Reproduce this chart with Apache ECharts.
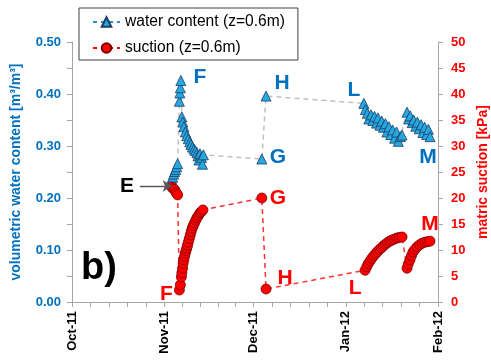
<!DOCTYPE html>
<html>
<head>
<meta charset="utf-8">
<script src="https://cdn.jsdelivr.net/npm/echarts@6/dist/echarts.min.js"></script>
<style>
  html, body { margin: 0; padding: 0; background: #fff; }
  #chart { width: 491px; height: 361px; }
</style>
</head>
<body>
<div id="chart"></div>
<script>
// Volumetric water content at z = 0.6 m (left axis)
const wcTime = [
  '2011-11-03 12:00', '2011-11-03 20:00', '2011-11-04 04:00', '2011-11-04 12:00',
  '2011-11-04 20:00', '2011-11-05 04:00', '2011-11-05 12:00',
  '2011-11-06 02:00', '2011-11-06 06:00', '2011-11-06 10:00', '2011-11-06 14:00',
  '2011-11-06 22:00', '2011-11-07 06:00', '2011-11-07 14:00', '2011-11-08 02:00',
  '2011-11-08 14:00', '2011-11-09 02:00', '2011-11-09 14:00', '2011-11-10 00:00',
  '2011-11-10 12:00', '2011-11-11 00:00', '2011-11-11 12:00', '2011-11-12 00:00',
  '2011-11-12 08:00', '2011-11-12 16:00', '2011-11-13 00:00', '2011-11-13 12:00',
  '2011-11-13 20:00', '2011-11-14 04:00',
  '2011-12-03 19:00', '2011-12-05 05:00',
  '2012-01-07 02:00', '2012-01-07 14:00', '2012-01-08 06:00', '2012-01-08 18:00',
  '2012-01-09 12:00', '2012-01-10 02:00', '2012-01-10 16:00', '2012-01-11 08:00',
  '2012-01-11 20:00', '2012-01-12 12:00', '2012-01-13 02:00', '2012-01-13 16:00',
  '2012-01-14 08:00', '2012-01-14 20:00', '2012-01-15 12:00', '2012-01-16 02:00',
  '2012-01-16 18:00', '2012-01-17 10:00', '2012-01-18 02:00', '2012-01-18 16:00',
  '2012-01-19 08:00', '2012-01-19 22:00',
  '2012-01-21 14:00', '2012-01-22 04:00', '2012-01-22 16:00', '2012-01-23 08:00',
  '2012-01-23 20:00', '2012-01-24 12:00', '2012-01-25 02:00', '2012-01-25 16:00',
  '2012-01-26 08:00', '2012-01-26 22:00', '2012-01-27 12:00', '2012-01-28 04:00',
  '2012-01-28 18:00', '2012-01-29 08:00'
];
const wcValue = [
  0.236, 0.240, 0.246, 0.251,
  0.255, 0.260, 0.266,
  0.386, 0.402, 0.412, 0.426,
  0.356, 0.346, 0.337, 0.327,
  0.320, 0.314, 0.308, 0.303,
  0.298, 0.294, 0.291, 0.287,
  0.281, 0.273, 0.285, 0.278,
  0.265, 0.283,
  0.275, 0.396,
  0.382, 0.370, 0.363, 0.352,
  0.360, 0.349, 0.357, 0.344,
  0.354, 0.340, 0.348, 0.336,
  0.343, 0.327, 0.337, 0.322,
  0.331, 0.315, 0.327, 0.309,
  0.318, 0.321,
  0.365, 0.352, 0.358, 0.345,
  0.350, 0.338, 0.346, 0.333,
  0.341, 0.326, 0.336, 0.322,
  0.332, 0.318
];

// Matric suction at z = 0.6 m in kPa (right axis)
const suTime = [
  '2011-11-03 12:00', '2011-11-04 00:00', '2011-11-04 12:00', '2011-11-05 00:00',
  '2011-11-05 12:00',
  '2011-11-06 02:00', '2011-11-06 10:00',
  '2011-11-06 18:00', '2011-11-06 22:00', '2011-11-07 04:00', '2011-11-07 08:00',
  '2011-11-07 14:00', '2011-11-07 20:00', '2011-11-08 02:00', '2011-11-08 08:00',
  '2011-11-08 14:00', '2011-11-08 20:00', '2011-11-09 02:00', '2011-11-09 10:00',
  '2011-11-09 18:00', '2011-11-10 02:00', '2011-11-10 10:00', '2011-11-10 18:00',
  '2011-11-11 04:00', '2011-11-11 14:00', '2011-11-12 00:00', '2011-11-12 12:00',
  '2011-11-13 00:00', '2011-11-13 12:00', '2011-11-14 00:00',
  '2011-12-03 19:00', '2011-12-05 05:00',
  '2012-01-07 12:00', '2012-01-08 02:00', '2012-01-08 14:00', '2012-01-09 04:00',
  '2012-01-09 18:00', '2012-01-10 10:00', '2012-01-11 02:00', '2012-01-11 16:00',
  '2012-01-12 08:00', '2012-01-13 00:00', '2012-01-13 16:00', '2012-01-14 08:00',
  '2012-01-15 00:00', '2012-01-15 18:00', '2012-01-16 12:00', '2012-01-17 08:00',
  '2012-01-18 04:00', '2012-01-19 00:00', '2012-01-19 22:00',
  '2012-01-21 14:00', '2012-01-22 00:00', '2012-01-22 14:00', '2012-01-23 02:00',
  '2012-01-23 14:00', '2012-01-24 06:00', '2012-01-25 00:00', '2012-01-25 20:00',
  '2012-01-26 16:00', '2012-01-27 14:00', '2012-01-28 12:00', '2012-01-29 07:00'
];
const suValue = [
  22.1, 21.8, 21.6, 21.0,
  20.6,
  2.3, 3.3,
  4.8, 5.6, 6.5, 7.4,
  8.1, 8.8, 9.4, 9.9,
  10.4, 10.9, 11.5, 12.2,
  12.9, 13.6, 14.2, 14.7,
  15.2, 15.7, 16.2, 16.6,
  17.1, 17.4, 17.7,
  20.0, 2.5,
  6.1, 6.8, 7.4, 7.9,
  8.4, 8.9, 9.3, 9.7,
  10.1, 10.4, 10.8, 11.1,
  11.4, 11.7, 11.9, 12.1,
  12.3, 12.4, 12.5,
  6.5, 7.3, 8.1, 8.9,
  9.6, 10.1, 10.6, 11.0,
  11.3, 11.5, 11.6, 11.7
];

// Axis ranges and labels
const monthStarts = ['2011-10-01', '2011-11-01', '2011-12-01', '2012-01-01', '2012-02-01'];
const monthNames = ['Jan','Feb','Mar','Apr','May','Jun','Jul','Aug','Sep','Oct','Nov','Dec'];
const wcTicks = [0, 0.5, 0.1];
const suTicks = [0, 50, 5];

const seriesNames = ['water content (z=0.6m)', 'suction (z=0.6m)'];

const FONT = '"Liberation Sans", Arial, sans-serif';
const BLUE = '#0070C0';
const RED = '#FF0000';

function toMs(s) {
  const [d, t] = s.split(' ');
  const [y, m, dd] = d.split('-').map(Number);
  const [hh, mm] = (t || '00:00').split(':').map(Number);
  return new Date(y, m - 1, dd, hh, mm).getTime();
}

const monthMs = monthStarts.map(toMs);
// five minor divisions per month on the date axis
const tickMs = [];
for (let i = 0; i < monthMs.length - 1; i++) {
  for (let k = 0; k < 5; k++) tickMs.push(monthMs[i] + (monthMs[i + 1] - monthMs[i]) * k / 5);
}
tickMs.push(monthMs[monthMs.length - 1]);

const wcData = wcTime.map((t, i) => [toMs(t), wcValue[i]]);
const suData = suTime.map((t, i) => [toMs(t), suValue[i]]);

// letter annotation anchored on a data point, shifted by a pixel offset
function note(coord, text, color, dx, dy) {
  return {
    coord: coord,
    symbol: 'rect',
    symbolSize: 1,
    itemStyle: { color: 'rgba(0,0,0,0)' },
    label: {
      show: true, position: 'inside', formatter: text, color: color, offset: [dx, dy],
      fontFamily: FONT, fontWeight: 'bold', fontSize: 21,
      align: 'center', verticalAlign: 'middle'
    }
  };
}

const iPeak = wcValue.indexOf(Math.max(...wcValue));
const iWcG = wcTime.indexOf('2011-12-03 19:00');
const iWcH = wcTime.indexOf('2011-12-05 05:00');
const iWcL = wcTime.indexOf('2012-01-07 02:00');
const iWcM = wcTime.length - 1;
const iSuF = suTime.indexOf('2011-11-06 02:00');
const iSuG = suTime.indexOf('2011-12-03 19:00');
const iSuH = suTime.indexOf('2011-12-05 05:00');
const iSuL = suTime.indexOf('2012-01-07 12:00');
const iSuM = suTime.length - 1;

// arrow pointing at the onset of wetting
const arrowFrom = [toMs('2011-10-23 20:00'), 0.223];
const arrowTo = [toMs('2011-11-03 12:00'), 0.223];

const chart = echarts.init(document.getElementById('chart'));
chart.setOption({
  animation: false,
  backgroundColor: '#fff',
  grid: { left: 72, right: 53, top: 42, bottom: 59, containLabel: false, outerBoundsMode: 'none' },
  legend: {
    left: 79, top: 8,
    orient: 'vertical',
    borderColor: '#404040', borderWidth: 1, borderRadius: 0,
    padding: [6, 13, 4, 13],
    itemWidth: 27, itemHeight: 12, itemGap: 10,
    textStyle: { fontFamily: FONT, fontSize: 15.6, color: '#000' },
    data: [
      { name: seriesNames[0], lineStyle: { color: '#2E8BD0', type: [4, 4] } },
      { name: seriesNames[1], lineStyle: { color: RED, type: [4, 4] } }
    ]
  },
  graphic: [{
    type: 'text', left: 81, top: 250,
    style: { text: 'b)', font: 'bold 38px ' + FONT, fill: '#000' }
  }],
  xAxis: {
    type: 'value',
    min: monthMs[0], max: monthMs[monthMs.length - 1],
    axisLine: { show: true, onZero: false, lineStyle: { color: '#a6a6a6', width: 1 } },
    axisTick: { show: true, customValues: tickMs, length: 5, lineStyle: { color: '#a6a6a6' } },
    axisLabel: {
      customValues: monthMs, rotate: 90, margin: 9,
      fontFamily: FONT, fontWeight: 'bold', fontSize: 13, color: '#000',
      formatter: v => {
        const d = new Date(v);
        return monthNames[d.getMonth()] + '-' + String(d.getFullYear()).slice(2);
      }
    },
    splitLine: { show: false }
  },
  yAxis: [{
    type: 'value',
    min: wcTicks[0], max: wcTicks[1], interval: wcTicks[2],
    name: 'volumetric water content [m³/m³]',
    nameLocation: 'middle', nameGap: 49,
    nameTextStyle: { fontFamily: FONT, fontWeight: 'bold', fontSize: 14, color: BLUE },
    axisLine: { show: true, lineStyle: { color: '#a6a6a6' } },
    axisTick: { show: true, length: 5, lineStyle: { color: '#a6a6a6' } },
    minorTick: { show: true, splitNumber: 2, length: 5, lineStyle: { color: '#a6a6a6' } },
    axisLabel: {
      margin: 11, fontFamily: FONT, fontWeight: 'bold', fontSize: 13, color: BLUE,
      formatter: v => v.toFixed(2)
    },
    splitLine: { show: false }
  }, {
    type: 'value',
    min: suTicks[0], max: suTicks[1], interval: suTicks[2],
    name: 'matric suction [kPa]',
    nameLocation: 'middle', nameGap: 36, nameRotate: 90,
    nameTextStyle: { fontFamily: FONT, fontWeight: 'bold', fontSize: 14, color: RED },
    axisLine: { show: true, lineStyle: { color: '#a6a6a6' } },
    axisTick: { show: true, length: 5, lineStyle: { color: '#a6a6a6' } },
    axisLabel: { margin: 13, fontFamily: FONT, fontWeight: 'bold', fontSize: 13, color: RED },
    splitLine: { show: false }
  }],
  series: [{
    name: seriesNames[0],
    type: 'line',
    yAxisIndex: 0,
    data: wcData,
    symbol: 'triangle', symbolSize: 10,
    itemStyle: { color: '#27A7DF', borderColor: '#1B3E66', borderWidth: 0.8 },
    lineStyle: { color: '#BFBFBF', width: 1.5, type: [5, 4] },
    z: 3,
    markPoint: {
      silent: true,
      data: [
        note(wcData[iPeak], 'F', BLUE, 19, -3),
        note(wcData[iWcG], 'G', BLUE, 16, -2),
        note(wcData[iWcH], 'H', BLUE, 16, -13),
        note(wcData[iWcL], 'L', BLUE, -10, -13),
        note(wcData[iWcM], 'M', BLUE, -2, 21),
        note(arrowFrom, 'E', '#000', -13, 0)
      ]
    },
    markLine: {
      silent: true,
      symbol: ['none', 'arrow'],
      symbolSize: 9,
      lineStyle: { color: '#595959', type: 'solid', width: 1.3 },
      label: { show: false },
      data: [[{ coord: arrowFrom }, { coord: arrowTo }]]
    }
  }, {
    name: seriesNames[1],
    type: 'line',
    yAxisIndex: 1,
    data: suData,
    symbol: 'circle', symbolSize: 10,
    itemStyle: { color: RED, borderColor: '#7A0000', borderWidth: 0.8 },
    lineStyle: { color: '#FF3030', width: 1.5, type: [5, 4] },
    z: 4,
    markPoint: {
      silent: true,
      data: [
        note(suData[iSuF], 'F', RED, -13, 4),
        note(suData[iSuG], 'G', RED, 16, 0),
        note(suData[iSuH], 'H', RED, 19, -11),
        note(suData[iSuL], 'L', RED, -10, 18),
        note(suData[iSuM], 'M', RED, 0, -17)
      ]
    }
  }]
});
</script>
</body>
</html>
